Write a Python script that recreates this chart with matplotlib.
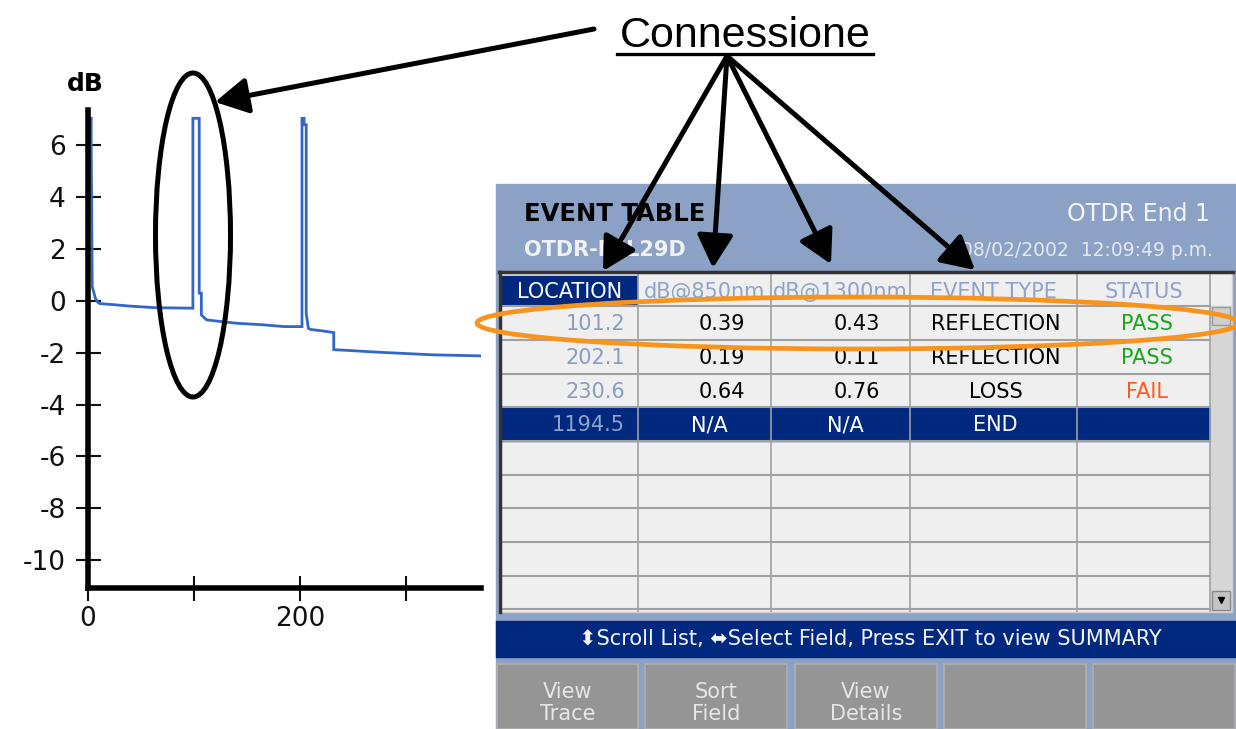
import matplotlib
matplotlib.use("Agg")
import matplotlib.pyplot as plt
from matplotlib.patches import Rectangle, Ellipse

plt.rcParams['font.family'] = ['DejaVu Sans']
plt.rcParams['axes.unicode_minus'] = False

# OTDR trace (distance, dB)
trace_x = [0, 0, 3, 3, 4, 7, 9, 11, 40, 63, 99, 99, 105, 105, 107, 107, 112, 120, 140, 165,
           185, 202, 202, 204, 204, 206, 206, 208, 210, 220, 232, 232, 250, 270, 300, 325, 371]
trace_y = [0.7, 7.05, 7.05, 6.25, 0.55, 0.1, -0.04, -0.1, -0.2, -0.26, -0.28, 7.05, 7.05, 0.3, 0.3,
           -0.54, -0.73, -0.77, -0.86, -0.92, -0.99, -0.99, 7.05, 7.05, 6.8, 6.8, -0.48, -1.05,
           -1.1, -1.15, -1.22, -1.88, -1.92, -1.97, -2.03, -2.08, -2.12]
y_ticks = [-10, -8, -6, -4, -2, 0, 2, 4, 6]
x_ticks = [0, 100, 200, 300]
x_tick_labels = ["0", "", "200", ""]

# event table
columns = ["LOCATION", "dB@850nm", "dB@1300nm", "EVENT TYPE", "STATUS"]
location = ["101.2", "202.1", "230.6", "1194.5"]
db_850 = ["0.39", "0.19", "0.64", "N/A"]
db_1300 = ["0.43", "0.11", "0.76", "N/A"]
event_type = ["REFLECTION", "REFLECTION", "LOSS", "END"]
status = ["PASS", "PASS", "FAIL", ""]
buttons = ["View\nTrace", "Sort\nField", "View\nDetails", "", ""]

W, H = 1236, 729
fig = plt.figure(figsize=(W / 100, H / 100), dpi=100)
fig.patch.set_facecolor("white")

# ---- trace plot ----
ax = fig.add_axes([88 / W, (H - 588) / H, (481 - 88) / W, (588 - 110) / H])
ax.plot(trace_x, trace_y, color="#3366cc", lw=2.0, solid_joinstyle="miter")
ax.set_xlim(0, 371)
ax.set_ylim(-11.08, 7.37)
for s in ["top", "right"]:
    ax.spines[s].set_visible(False)
for s in ["left", "bottom"]:
    ax.spines[s].set_linewidth(4)
    ax.spines[s].set_capstyle("projecting")
ax.set_yticks(y_ticks)
ax.set_xticks(x_ticks)
ax.set_xticklabels(x_tick_labels)
ax.tick_params(direction="inout", length=18, width=1.5, labelsize=19, colors="#111111")
ax.tick_params(axis="y", pad=7)
ax.tick_params(axis="x", pad=4)
ax.patch.set_alpha(0)

# ---- overlay in pixel coordinates ----
ov = fig.add_axes([0, 0, 1, 1])
ov.set_xlim(0, W)
ov.set_ylim(H, 0)
ov.axis("off")

ov.text(85, 84, "dB", fontsize=18, fontweight="bold", ha="center", va="center")

panel_blue = "#8ca1c6"
dark_blue = "#00287f"
grid_col = "#a0a0a0"
cell_bg = "#efefef"
hdr_txt = "#8fa3c9"

ov.add_patch(Rectangle((496, 184), W - 496, H - 184, color=panel_blue, zorder=1))
ov.text(524, 214, "EVENT TABLE", fontsize=17.5, fontweight="bold", va="center", zorder=2)
ov.text(524, 250, "OTDR-MIL29D", fontsize=15, fontweight="bold", color="#f0f2f7", va="center", zorder=2)
ov.text(1210, 214, "OTDR End 1", fontsize=17, color="#f2f4f8", ha="right", va="center", zorder=2)
ov.text(1213, 250, "08/02/2002  12:09:49 p.m.", fontsize=13.5, color="#e4e8f0", ha="right", va="center", zorder=2)

# table area
col_edges = [501, 638, 771, 910, 1077, 1210]
row_edges = [275, 306, 340, 374, 407, 441, 475, 508, 542, 576, 609]
ov.add_patch(Rectangle((499, 272), 733, 340, facecolor=cell_bg, edgecolor="#d0d0d0", lw=1, zorder=2))
ov.plot([499, 1233], [272, 272], color="#333333", lw=2.5, zorder=4)
ov.plot([500, 500], [272, 612], color="#333333", lw=2.5, zorder=4)

# header row
ov.add_patch(Rectangle((col_edges[0] + 1, row_edges[0] + 1), col_edges[1] - col_edges[0] - 2,
                       row_edges[1] - row_edges[0] - 2, color=dark_blue, zorder=3))
for i, name in enumerate(columns):
    cx = (col_edges[i] + col_edges[i + 1]) / 2
    ov.text(cx, (row_edges[0] + row_edges[1]) / 2 + 1, name, fontsize=15,
            color="white" if i == 0 else hdr_txt, ha="center", va="center", zorder=5)

# END row highlight
end_row = len(location) - 1
ov.add_patch(Rectangle((col_edges[0], row_edges[end_row + 1]), col_edges[-1] - col_edges[0],
                       row_edges[end_row + 2] - row_edges[end_row + 1], color=dark_blue, zorder=3))

# grid
for x in col_edges[1:]:
    ov.plot([x, x], [row_edges[0], 611], color=grid_col, lw=1.2, zorder=3.5)
for y in row_edges[1:]:
    ov.plot([col_edges[0], col_edges[-1]], [y, y], color=grid_col, lw=1.5, zorder=3.5)

# row values
for r in range(len(location)):
    cy = (row_edges[r + 1] + row_edges[r + 2]) / 2 + 1
    dark = r == end_row
    txt = "white" if dark else "black"
    ov.text(col_edges[1] - 13, cy, location[r], fontsize=15, color="#8a9cc0" if not dark else "#8fa3cb",
            ha="right", va="center", zorder=5)
    for val, c, off in [(db_850[r], 1, 26), (db_1300[r], 2, 30)]:
        if val == "N/A":
            ov.text((col_edges[c] + col_edges[c + 1]) / 2 + 5, cy, val, fontsize=15, color=txt,
                    ha="center", va="center", zorder=5)
        else:
            ov.text(col_edges[c + 1] - off, cy, val, fontsize=15, color=txt,
                    ha="right", va="center", zorder=5)
    ov.text((col_edges[3] + col_edges[4]) / 2 + 2, cy, event_type[r], fontsize=15, color=txt,
            ha="center", va="center", zorder=5)
    st_col = "#1ea51e" if status[r] == "PASS" else "#ff5a1e"
    ov.text((col_edges[4] + col_edges[5]) / 2 + 3, cy, status[r], fontsize=15, color=st_col,
            ha="center", va="center", zorder=5)

# scrollbar
ov.add_patch(Rectangle((1211, 306), 20, 305, color="#d6d6d6", zorder=3))
ov.add_patch(Rectangle((1212, 307), 18, 18, facecolor="#cfcfcf", edgecolor="#999999", lw=1, zorder=3.6))
ov.add_patch(Rectangle((1212, 591), 18, 19, facecolor="#c4c4c4", edgecolor="#888888", lw=1, zorder=3.6))
ov.plot([1221], [600], marker="v", color="black", markersize=5, zorder=4)

# status bar
ov.add_patch(Rectangle((496, 621), W - 496, 36, color=dark_blue, zorder=2))
ov.text(870, 639, "\u2b0dScroll List, \u2b0cSelect Field, Press EXIT to view SUMMARY", fontsize=15,
        color="#f4f4f4", ha="center", va="center", zorder=3)

# soft buttons
btn_edges = [(497, 638), (645, 787), (795, 937), (944, 1086), (1093, 1235)]
for (x0, x1), lab in zip(btn_edges, buttons):
    ov.add_patch(Rectangle((x0, 664), x1 - x0, H - 664, facecolor="#959595", edgecolor="#b0b0b0",
                           lw=1.2, zorder=2))
    ov.text((x0 + x1) / 2, 703, lab, fontsize=15, color="#e6e6e6", ha="center", va="center",
            linespacing=1.1, zorder=3)

# annotations
ov.add_patch(Ellipse((193, 235), 75, 324, fill=False, edgecolor="black", lw=3.6, zorder=10))
ov.add_patch(Ellipse((858, 323), 762, 52, fill=False, edgecolor="#f7941d", lw=3.4, zorder=10))

ov.text(745, 47, "Connessione", fontsize=31, family="Liberation Sans", ha="center", va="baseline", zorder=10)
ov.plot([617, 873], [54, 54], color="black", lw=2.4, zorder=10)

arrow_kw = dict(arrowstyle="-|>,head_length=1.0,head_width=0.55", lw=3.6, color="black",
                shrinkA=0, shrinkB=0, mutation_scale=20)
ov.annotate("", xy=(215, 102), xytext=(594, 29), arrowprops=arrow_kw, zorder=11)
for tip in [(603, 271), (713, 268), (831, 264), (975, 270)]:
    ov.annotate("", xy=tip, xytext=(727, 56), arrowprops=arrow_kw, zorder=11)

fig.savefig("out.png", dpi=100)
